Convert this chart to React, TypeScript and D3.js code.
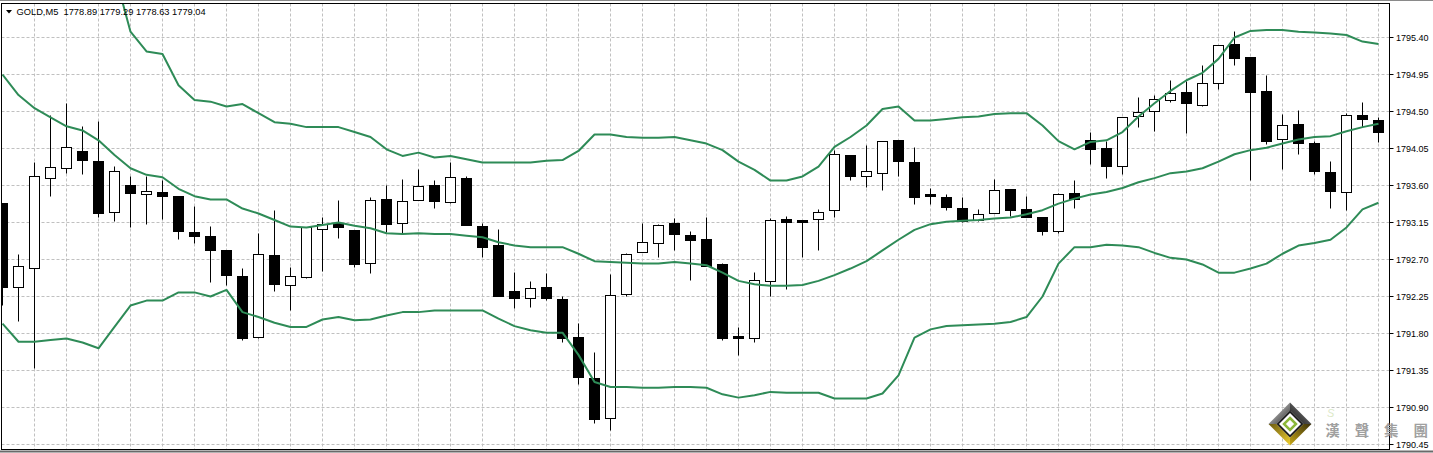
import React from 'react';
import * as d3 from 'd3';

// ---- Data ----
const headerText = 'GOLD,M5  1778.89 1779.29 1778.63 1779.04';

const priceTicks = [1795.40, 1794.95, 1794.50, 1794.05, 1793.60, 1793.15, 1792.70, 1792.25, 1791.80, 1791.35, 1790.90, 1790.45];

const open = [
  1793.38, 1792.36, 1792.59, 1793.69, 1793.81, 1794.01, 1793.89, 1793.27, 1793.60, 1793.49,
  1793.51, 1793.47, 1793.03, 1792.98, 1792.81, 1792.49, 1791.75, 1792.75, 1792.38, 1792.48,
  1793.06, 1793.14, 1793.05, 1792.65, 1793.43, 1793.14, 1793.42, 1793.60, 1793.39, 1793.69,
  1793.10, 1792.87, 1792.31, 1792.23, 1792.36, 1792.21, 1791.75, 1791.25, 1790.77, 1792.27,
  1792.79, 1792.89, 1793.14, 1792.99, 1792.94, 1792.64, 1791.76, 1791.74, 1792.43, 1793.19,
  1793.17, 1793.19, 1793.30, 1793.96, 1793.71, 1793.75, 1794.15, 1793.88, 1793.49, 1793.45,
  1793.32, 1793.17, 1793.26, 1793.55, 1793.31, 1793.21, 1793.04, 1793.50, 1794.15, 1794.05,
  1793.83, 1794.44, 1794.50, 1794.63, 1794.73, 1794.57, 1794.84, 1795.31, 1795.16, 1794.74,
  1794.16, 1794.34, 1794.11, 1793.76, 1793.51, 1794.45, 1794.39,
];

const high = [
  1793.38, 1792.76, 1793.88, 1794.45, 1794.60, 1794.32, 1794.38, 1793.83, 1793.71, 1793.71,
  1793.66, 1793.47, 1793.34, 1793.10, 1792.81, 1792.59, 1793.02, 1793.30, 1792.60, 1793.09,
  1793.21, 1793.42, 1793.05, 1793.45, 1793.60, 1793.67, 1793.79, 1793.66, 1793.88, 1793.71,
  1793.14, 1793.06, 1792.54, 1792.43, 1792.53, 1792.25, 1791.92, 1791.57, 1792.52, 1792.77,
  1793.14, 1793.13, 1793.20, 1793.04, 1793.21, 1792.65, 1791.87, 1792.54, 1793.20, 1793.22,
  1793.17, 1793.31, 1794.02, 1793.96, 1794.09, 1794.14, 1794.15, 1794.06, 1793.56, 1793.49,
  1793.45, 1793.31, 1793.67, 1793.55, 1793.47, 1793.21, 1793.50, 1793.66, 1794.24, 1794.14,
  1794.43, 1794.67, 1794.69, 1794.88, 1794.87, 1795.06, 1795.30, 1795.47, 1795.16, 1794.94,
  1794.46, 1794.51, 1794.14, 1793.89, 1794.48, 1794.61, 1794.43,
];

const low = [
  1792.14, 1791.94, 1791.38, 1793.47, 1793.75, 1793.73, 1793.21, 1793.16, 1793.09, 1793.13,
  1793.19, 1792.94, 1792.90, 1792.42, 1792.38, 1791.71, 1791.74, 1792.31, 1792.08, 1792.47,
  1792.56, 1792.95, 1792.60, 1792.53, 1793.03, 1793.02, 1793.42, 1793.32, 1793.38, 1793.11,
  1792.72, 1792.25, 1792.11, 1792.12, 1792.20, 1791.69, 1791.18, 1790.71, 1790.62, 1792.25,
  1792.79, 1792.72, 1792.81, 1792.44, 1792.62, 1791.72, 1791.53, 1791.69, 1792.25, 1792.34,
  1792.72, 1792.81, 1793.21, 1793.66, 1793.57, 1793.54, 1793.71, 1793.37, 1793.37, 1793.29,
  1793.15, 1793.16, 1793.26, 1793.22, 1793.21, 1792.99, 1793.02, 1793.32, 1793.86, 1793.69,
  1793.73, 1794.31, 1794.26, 1794.61, 1794.23, 1794.56, 1794.77, 1795.06, 1793.66, 1794.10,
  1793.79, 1793.98, 1793.73, 1793.32, 1793.29, 1794.31, 1794.12,
];

const close = [
  1792.36, 1792.61, 1793.71, 1793.82, 1794.06, 1793.90, 1793.26, 1793.77, 1793.50, 1793.53,
  1793.47, 1793.04, 1792.98, 1792.81, 1792.50, 1791.74, 1792.76, 1792.39, 1792.49, 1793.09,
  1793.13, 1793.09, 1792.64, 1793.42, 1793.13, 1793.41, 1793.59, 1793.41, 1793.70, 1793.11,
  1792.84, 1792.25, 1792.22, 1792.35, 1792.22, 1791.74, 1791.27, 1790.75, 1792.26, 1792.76,
  1792.91, 1793.11, 1793.00, 1792.93, 1792.62, 1791.74, 1791.74, 1792.44, 1793.17, 1793.15,
  1793.15, 1793.27, 1793.98, 1793.71, 1793.77, 1794.14, 1793.89, 1793.45, 1793.47, 1793.33,
  1793.16, 1793.25, 1793.54, 1793.30, 1793.21, 1793.04, 1793.49, 1793.43, 1794.04, 1793.83,
  1794.43, 1794.49, 1794.65, 1794.72, 1794.60, 1794.84, 1795.30, 1795.14, 1794.73, 1794.14,
  1794.33, 1794.11, 1793.77, 1793.53, 1794.45, 1794.40, 1794.24,
];

const upperBand = [
  1797.60, 1797.50, 1797.30, 1797.10, 1796.90, 1796.70, 1796.50, 1796.19, 1795.47, 1795.23,
  1795.20, 1794.82, 1794.64, 1794.62, 1794.56, 1794.59, 1794.48, 1794.37, 1794.35, 1794.31,
  1794.31, 1794.31, 1794.25, 1794.19, 1794.04, 1793.96, 1794.00, 1793.94, 1793.96, 1793.92,
  1793.88, 1793.88, 1793.88, 1793.88, 1793.90, 1793.91, 1794.02, 1794.22, 1794.22, 1794.19,
  1794.18, 1794.18, 1794.19, 1794.15, 1794.11, 1794.03, 1793.89, 1793.79, 1793.66, 1793.66,
  1793.71, 1793.83, 1794.07, 1794.19, 1794.33, 1794.53, 1794.56, 1794.39, 1794.39, 1794.41,
  1794.43, 1794.44, 1794.47, 1794.48, 1794.48, 1794.33, 1794.14, 1794.04, 1794.13, 1794.15,
  1794.25, 1794.44, 1794.60, 1794.75, 1794.88, 1794.97, 1795.14, 1795.40, 1795.48, 1795.49,
  1795.49, 1795.47, 1795.46, 1795.45, 1795.43, 1795.35, 1795.32,
];

const middleBand = [
  1794.95, 1794.70, 1794.54, 1794.43, 1794.32, 1794.27, 1794.15, 1793.97, 1793.81, 1793.73,
  1793.70, 1793.56, 1793.47, 1793.43, 1793.43, 1793.32, 1793.26, 1793.18, 1793.10, 1793.09,
  1793.12, 1793.15, 1793.11, 1793.08, 1793.02, 1793.01, 1793.02, 1793.01, 1793.01, 1792.99,
  1792.97, 1792.91, 1792.87, 1792.85, 1792.85, 1792.85, 1792.77, 1792.68, 1792.67, 1792.66,
  1792.65, 1792.65, 1792.67, 1792.65, 1792.63, 1792.54, 1792.44, 1792.40, 1792.38, 1792.38,
  1792.39, 1792.44, 1792.51, 1792.59, 1792.68, 1792.81, 1792.94, 1793.06, 1793.13, 1793.16,
  1793.17, 1793.18, 1793.20, 1793.21, 1793.25, 1793.30, 1793.38, 1793.44, 1793.49, 1793.52,
  1793.57, 1793.64, 1793.69, 1793.75, 1793.77, 1793.81, 1793.89, 1793.98, 1794.03, 1794.06,
  1794.11, 1794.16, 1794.19, 1794.20, 1794.26, 1794.31, 1794.35,
];

const lowerBand = [
  1791.92, 1791.70, 1791.70, 1791.72, 1791.74, 1791.69, 1791.62, 1791.88, 1792.14, 1792.20,
  1792.20, 1792.30, 1792.30, 1792.25, 1792.33, 1792.06, 1792.00, 1791.93, 1791.88, 1791.88,
  1791.97, 1792.00, 1791.96, 1791.97, 1792.02, 1792.06, 1792.06, 1792.08, 1792.08, 1792.08,
  1792.08, 1791.98, 1791.89, 1791.84, 1791.81, 1791.81, 1791.54, 1791.21, 1791.15, 1791.15,
  1791.14, 1791.14, 1791.15, 1791.15, 1791.14, 1791.06, 1791.02, 1791.05, 1791.09, 1791.08,
  1791.08, 1791.08, 1791.01, 1791.01, 1791.01, 1791.07, 1791.29, 1791.75, 1791.85, 1791.89,
  1791.90, 1791.91, 1791.92, 1791.94, 1792.00, 1792.25, 1792.65, 1792.85, 1792.85, 1792.88,
  1792.87, 1792.85, 1792.78, 1792.72, 1792.70, 1792.64, 1792.54, 1792.54, 1792.59, 1792.65,
  1792.77, 1792.87, 1792.90, 1792.94, 1793.09, 1793.31, 1793.39,
];

const logoChars = ['漢', '聲', '集', '團'];

// ---- Layout ----
const W = 1433;
const H = 453;
const PLOT_L = 1.5;
const PLOT_T = 3.5;
const PLOT_R = 1389.5;
const PLOT_B = 449.5;
const BAND_COLOR = '#2e8b57';
const GRID_COLOR = '#c0c0c0';
const FONT = "'Liberation Sans', Arial, sans-serif";

export default function App() {
  const n = open.length;
  const x = d3.scaleLinear().domain([0, n - 1]).range([2.5, 2.5 + 16 * (n - 1)]);
  const y = d3.scaleLinear().domain([1790.45, 1795.40]).range([444.5, 37.5]);
  const crisp = (v: number) => Math.round(v - 0.5) + 0.5;

  const lineGen = d3
    .line<number>()
    .x((_, i) => x(i))
    .y((v) => y(v));

  const idx = d3.range(n);
  const gridX = idx.filter((i) => i % 2 === 0 && i > 0);

  // logo geometry
  const lc = { x: 1290, y: 424 };
  const dia = (r: number) =>
    [
      [lc.x, lc.y - r],
      [lc.x + r, lc.y],
      [lc.x, lc.y + r],
      [lc.x - r, lc.y],
    ] as [number, number][];
  const outer = dia(21.5);
  const inner = dia(13.5);
  const pts = (a: [number, number][]) => a.map((p) => p.join(',')).join(' ');

  return (
    <svg
      width={W}
      height={H}
      style={{ position: 'absolute', left: 0, top: 0, background: '#fff' }}
      xmlns="http://www.w3.org/2000/svg"
    >
      <defs>
        <clipPath id="plotClip">
          <rect x={PLOT_L + 0.5} y={PLOT_T + 0.5} width={PLOT_R - PLOT_L - 1} height={PLOT_B - PLOT_T - 1} />
        </clipPath>
        <linearGradient id="silverL" x1="0" y1="0" x2="1" y2="1">
          <stop offset="0" stopColor="#ffffff" />
          <stop offset="0.5" stopColor="#8a8a8a" />
          <stop offset="1" stopColor="#2a2a2a" />
        </linearGradient>
        <linearGradient id="silverR" x1="1" y1="0" x2="0" y2="1">
          <stop offset="0" stopColor="#d0d0d0" />
          <stop offset="0.5" stopColor="#505050" />
          <stop offset="1" stopColor="#151515" />
        </linearGradient>
        <linearGradient id="goldL" x1="0" y1="0" x2="1" y2="1">
          <stop offset="0" stopColor="#6b5a10" />
          <stop offset="1" stopColor="#f0d030" />
        </linearGradient>
        <linearGradient id="goldR" x1="1" y1="0" x2="0" y2="1">
          <stop offset="0" stopColor="#3a3008" />
          <stop offset="1" stopColor="#c8a818" />
        </linearGradient>
      </defs>

      <rect x={0} y={0} width={W} height={H} fill="#fff" />

      {/* grid */}
      <g stroke={GRID_COLOR} strokeWidth={1} strokeDasharray="3,2">
        {priceTicks.map((t) => (
          <line key={'h' + t} x1={PLOT_L} x2={PLOT_R} y1={crisp(y(t))} y2={crisp(y(t))} />
        ))}
        {gridX.map((i) => (
          <line key={'v' + i} x1={x(i)} x2={x(i)} y1={PLOT_T} y2={PLOT_B} />
        ))}
      </g>

      <g clipPath="url(#plotClip)">
        {/* candles */}
        {idx.map((i) => {
          const cx = x(i);
          const bull = close[i] >= open[i];
          const top = crisp(y(Math.max(open[i], close[i])));
          const bot = crisp(y(Math.min(open[i], close[i])));
          return (
            <g key={'c' + i}>
              <line x1={cx} x2={cx} y1={crisp(y(high[i]))} y2={crisp(y(low[i]))} stroke="#000" strokeWidth={1} />
              <rect
                x={cx - 5}
                y={top}
                width={10}
                height={Math.max(bot - top, 0)}
                fill={bull ? '#fff' : '#000'}
                stroke="#000"
                strokeWidth={1}
              />
            </g>
          );
        })}

        {/* Bollinger bands */}
        {[upperBand, middleBand, lowerBand].map((b, k) => (
          <path key={'b' + k} d={lineGen(b) || ''} fill="none" stroke={BAND_COLOR} strokeWidth={2} strokeLinejoin="round" />
        ))}
      </g>

      {/* frame */}
      <line x1={0} x2={W} y1={0.5} y2={0.5} stroke="#8a8a8a" />
      <line x1={0} x2={W} y1={451.5} y2={451.5} stroke="#6a6a6a" strokeWidth={2} />
      <rect x={PLOT_L} y={PLOT_T} width={PLOT_R - PLOT_L} height={PLOT_B - PLOT_T} fill="none" stroke="#000" strokeWidth={1} />

      {/* price axis */}
      {priceTicks.map((t) => (
        <g key={'t' + t}>
          <line x1={PLOT_R} x2={PLOT_R + 4} y1={crisp(y(t))} y2={crisp(y(t))} stroke="#000" />
          <text x={1396} y={y(t) + 3.4} fontFamily={FONT} fontSize={9} fill="#000">
            {t.toFixed(2)}
          </text>
        </g>
      ))}

      {/* header */}
      <polygon points="6,10 12,10 9,13.5" fill="#000" />
      <text x={16.5} y={15} fontFamily={FONT} fontSize={9.3} fill="#000" style={{ whiteSpace: 'pre' }}>
        {headerText}
      </text>

      {/* watermark logo */}
      <g>
        <polygon points={pts([outer[0], outer[3], inner[3], inner[0]])} fill="url(#silverL)" />
        <polygon points={pts([outer[0], outer[1], inner[1], inner[0]])} fill="url(#silverR)" />
        <polygon points={pts([outer[3], outer[2], inner[2], inner[3]])} fill="url(#goldL)" />
        <polygon points={pts([outer[1], outer[2], inner[2], inner[1]])} fill="url(#goldR)" />
        <polygon points={pts(inner)} fill="#1a1a1a" />
        <polygon points={pts(dia(11))} fill="#fff" />
        <polygon points={pts(dia(6))} fill="#fff" stroke="#8cb83a" strokeWidth={2.5} />
        <text x={1327} y={417} fontFamily={FONT} fontSize={11} fontStyle="italic" fill="#dce9c8">
          S
        </text>
        {logoChars.map((c, i) => (
          <text
            key={c}
            x={1332.5 + i * 29.4}
            y={435.5}
            textAnchor="middle"
            fontFamily="'Noto Sans CJK TC', 'Noto Sans CJK SC', sans-serif"
            fontSize={14.5}
            fontWeight={700}
            fill="#a0a0a0"
          >
            {c}
          </text>
        ))}
      </g>
    </svg>
  );
}
